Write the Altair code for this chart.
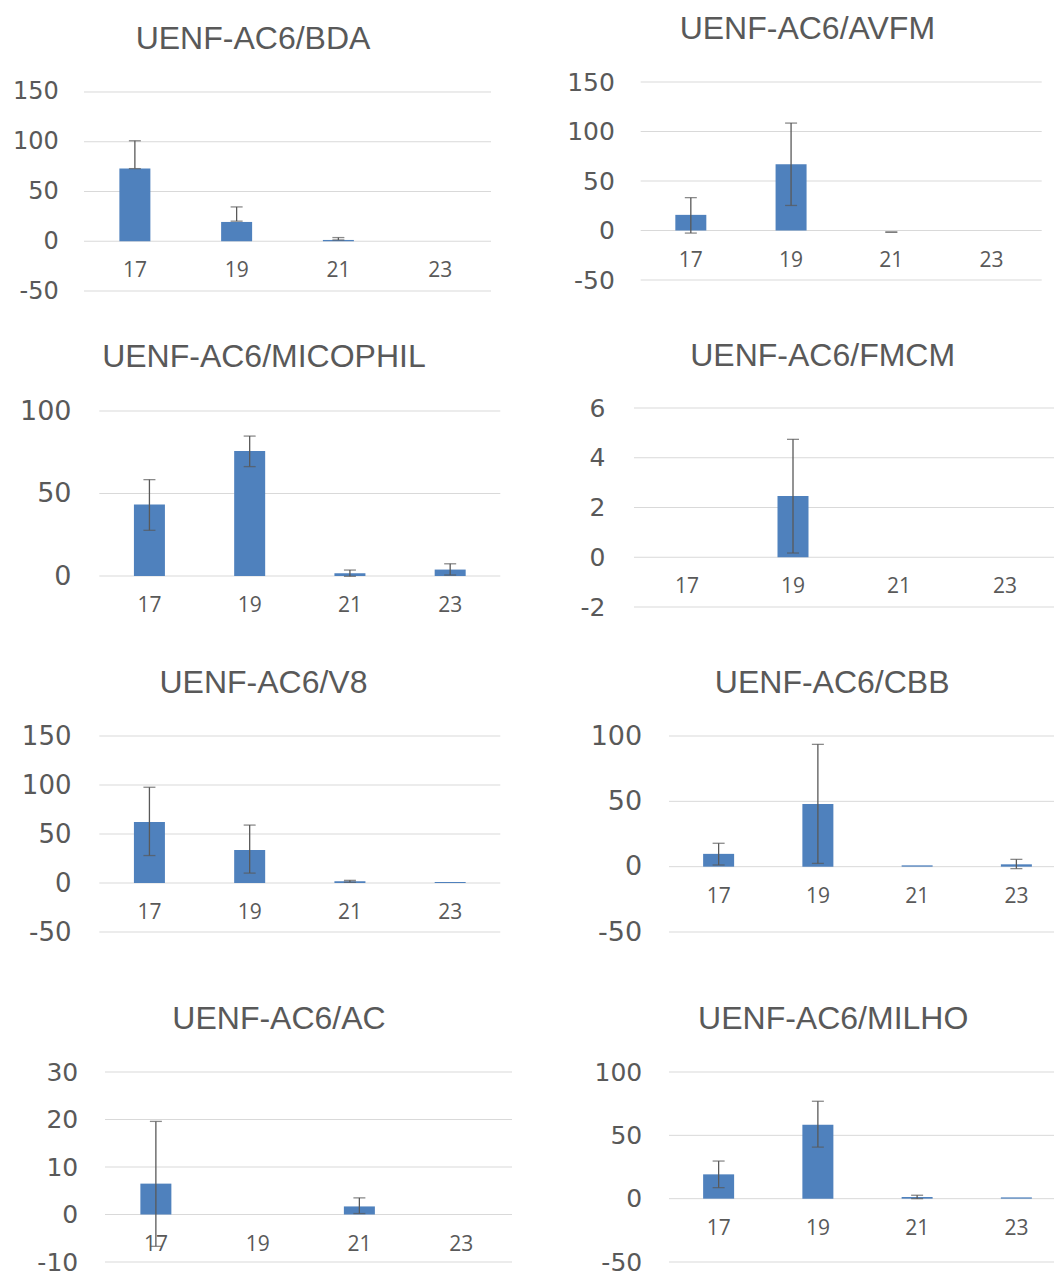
import altair as alt
import pandas as pd

WEEKS = ["17", "19", "21", "23"]

# mean and error-bar ends (None = no error bar) per treatment
BDA_MEAN = [73.0, 19.4, 1.3, 0.0]
BDA_LOW = [73.0, 20.2, 1.3, None]
BDA_HIGH = [101.0, 34.5, 3.7, None]

AVFM_MEAN = [15.8, 66.8, 0.0, 0.0]
AVFM_LOW = [-2.6, 25.3, -1.6, None]
AVFM_HIGH = [33.2, 108.5, -1.6, None]

MICOPHIL_MEAN = [43.3, 75.8, 1.6, 3.9]
MICOPHIL_LOW = [27.7, 66.3, -0.2, 0.6]
MICOPHIL_HIGH = [58.4, 84.8, 3.6, 7.4]

FMCM_MEAN = [0.0, 2.46, 0.0, 0.0]
FMCM_LOW = [None, 0.17, None, None]
FMCM_HIGH = [None, 4.74, None, None]

V8_MEAN = [62.2, 33.8, 1.7, 1.0]
V8_LOW = [28.0, 10.1, 0.8, None]
V8_HIGH = [97.7, 59.1, 2.7, None]

CBB_MEAN = [9.8, 47.9, 1.0, 1.8]
CBB_LOW = [1.3, 2.5, None, -1.5]
CBB_HIGH = [17.9, 93.6, None, 5.6]

AC_MEAN = [6.5, 0.0, 1.7, 0.0]
AC_LOW = [-6.7, None, 0.2, None]
AC_HIGH = [19.6, None, 3.5, None]

MILHO_MEAN = [19.2, 58.3, 1.3, 1.0]
MILHO_LOW = [8.7, 40.7, 0.0, None]
MILHO_HIGH = [29.7, 76.9, 2.7, None]

TICKS_150 = [-50, 0, 50, 100, 150]
TICKS_100 = [-50, 0, 50, 100]
TICKS_MICOPHIL = [0, 50, 100]
TICKS_FMCM = [-2, 0, 2, 4, 6]
TICKS_AC = [-10, 0, 10, 20, 30]

BAR_BLUE = "#4F81BD"
ERR_GRAY = "#595959"
TEXT_GRAY = "#595959"
GRID_GRAY = "#d9d9d9"


def spacer(w, h):
    return (
        alt.Chart(alt.Data(values=[{"s": 0}]))
        .mark_point(opacity=0)
        .encode(x=alt.value(0), y=alt.value(0))
        .properties(width=w, height=h)
    )


def panel(title, mean, low, high, domain, ticks, shift, plot_w, h,
          label_size, label_pad, title_dx, title_offset):
    n = len(WEEKS)
    df = pd.DataFrame({
        "week": WEEKS,
        "pos": [i + 0.5 for i in range(n)],
        "mean": mean,
        "low": low,
        "high": high,
    })
    grid_df = pd.DataFrame({"tick": ticks})

    xscale = alt.Scale(domain=[0, n], range=[shift, shift + plot_w],
                       nice=False, zero=False, padding=0)
    yscale = alt.Scale(domain=domain, nice=False, zero=False)
    yaxis = alt.Axis(
        values=ticks,
        grid=False,
        domain=False,
        ticks=False,
        labelPadding=label_pad,
        labelFont="DejaVu Sans",
        labelFontSize=label_size,
        labelColor=TEXT_GRAY,
        labelBaseline="middle",
        labelExpr="'' + datum.value",
        title=None,
    )
    x = alt.X("pos:Q", scale=xscale, axis=None)

    gridlines = alt.Chart(grid_df).mark_rule(color=GRID_GRAY, strokeWidth=1).encode(
        x=alt.datum(0, scale=xscale, axis=None),
        x2=alt.datum(n),
        y=alt.Y("tick:Q", scale=yscale, axis=yaxis, title=None),
    )
    base = alt.Chart(df)
    labels = base.mark_text(
        dy=30, baseline="middle", font="Open Sans", fontSize=21, color=TEXT_GRAY
    ).encode(x=x, y=alt.datum(0, scale=yscale, axis=yaxis), text="week:N")
    bars = base.mark_bar(color=BAR_BLUE, size=31, orient="vertical").encode(
        x=x, y=alt.Y("mean:Q", scale=yscale, axis=yaxis, title=None)
    )
    err = base.transform_filter("isValid(datum.low)")
    rules = err.mark_rule(color=ERR_GRAY, strokeWidth=1.3).encode(
        x=x,
        y=alt.Y("low:Q", scale=yscale, axis=yaxis, title=None),
        y2="high:Q",
    )
    caps_low = err.mark_tick(
        color=ERR_GRAY, size=12, thickness=1.3, orient="horizontal"
    ).encode(x=x, y=alt.Y("low:Q", scale=yscale, axis=yaxis, title=None))
    caps_high = err.mark_tick(
        color=ERR_GRAY, size=12, thickness=1.3, orient="horizontal"
    ).encode(x=x, y=alt.Y("high:Q", scale=yscale, axis=yaxis, title=None))

    return alt.layer(gridlines, labels, bars, rules, caps_low, caps_high).properties(
        width=shift + plot_w,
        height=h,
        title=alt.Title(
            title,
            frame="group",
            anchor="middle",
            dx=title_dx,
            offset=title_offset,
            baseline="alphabetic",
            font="Liberation Sans",
            fontSize=32,
            fontWeight="normal",
            color=TEXT_GRAY,
        ),
    )


# panels sharing a grid column share a left edge; "shift" moves the drawn
# plot right inside that cell.  Some y domains get a little empty room on
# top so panels in a row share a common top edge.
p_bda = panel("UENF-AC6/BDA", BDA_MEAN, BDA_LOW, BDA_HIGH,
              [-50, 160.05], TICKS_150, 0, 407, 209, 24, 25.7, -34.5, -1)
p_avfm = panel("UENF-AC6/AVFM", AVFM_MEAN, AVFM_LOW, AVFM_HIGH,
               [-50, 150], TICKS_150, 6.7, 401, 198, 25, 19.6, -30.5, -1)
p_mico = panel("UENF-AC6/MICOPHIL", MICOPHIL_MEAN, MICOPHIL_LOW, MICOPHIL_HIGH,
               [0, 101.82], TICKS_MICOPHIL, 15.3, 401, 168, 27, 13, -28.2, -2.2)
p_fmcm = panel("UENF-AC6/FMCM", FMCM_MEAN, FMCM_LOW, FMCM_HIGH,
               [-2, 6], TICKS_FMCM, 0, 424, 199, 25, 29, -23.3, -2)
p_v8 = panel("UENF-AC6/V8", V8_MEAN, V8_LOW, V8_HIGH,
             [-50, 150], TICKS_150, 15.3, 401, 196, 26, 13, -28.7, -2)
p_cbb = panel("UENF-AC6/CBB", CBB_MEAN, CBB_LOW, CBB_HIGH,
              [-50, 100], TICKS_100, 35, 397, 196, 27, -7.7, -17.8, -3)
p_ac = panel("UENF-AC6/AC", AC_MEAN, AC_LOW, AC_HIGH,
             [-10, 30], TICKS_AC, 21, 407, 190, 25, 6.3, -19, -1.3)
p_milho = panel("UENF-AC6/MILHO", MILHO_MEAN, MILHO_LOW, MILHO_HIGH,
                [-50, 100], TICKS_100, 35, 397, 190, 25, -7.7, -16.8, -0.5)


def gap_row(h):
    return [spacer(1, h), spacer(1, h), spacer(1, h)]


cells = (
    [p_bda, spacer(121.3, 1), p_avfm]
    + gap_row(116.7)
    + [p_mico, spacer(121.3, 1), p_fmcm]
    + gap_row(128.3)
    + [p_v8, spacer(121.3, 1), p_cbb]
    + gap_row(139.7)
    + [p_ac, spacer(121.3, 1), p_milho]
)

chart = (
    alt.concat(*cells, columns=3, spacing=0, bounds="flush", align="each")
    .properties(
        autosize=alt.AutoSizeParams(type="none"),
        padding={"left": 84, "top": 82, "right": 970, "bottom": 1190},
    )
    .configure_view(stroke=None)
)

chart.save("out.html", embed_options={"renderer": "svg", "actions": False})
